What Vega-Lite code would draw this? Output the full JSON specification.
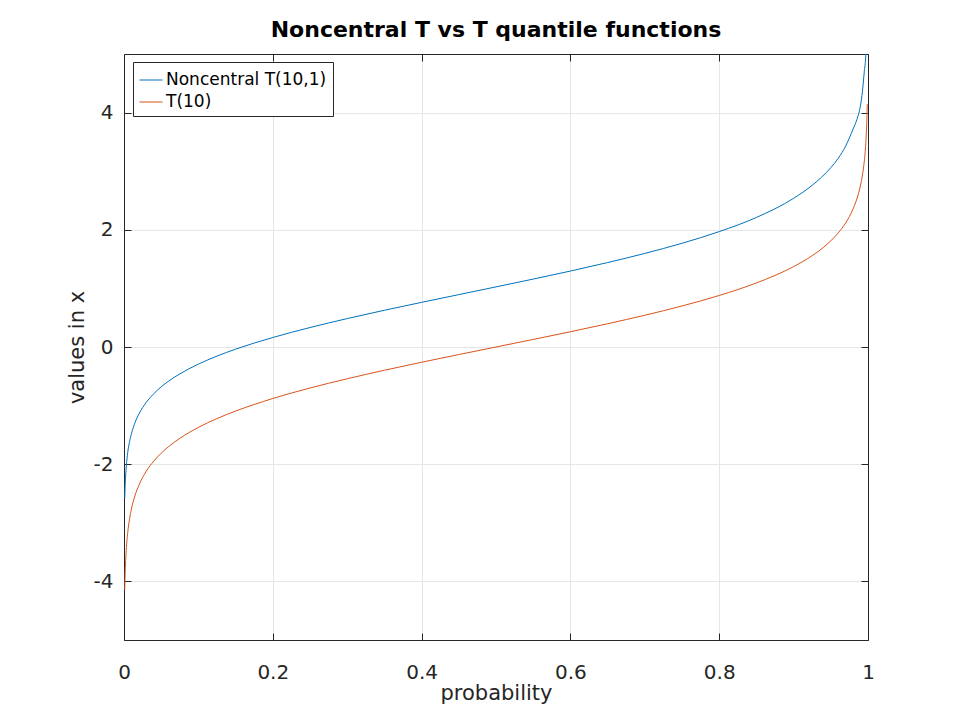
{
  "$schema": "https://vega.github.io/schema/vega-lite/v6.json",
  "autosize": {"type": "none"},
  "width": 744,
  "height": 586,
  "padding": {"left": 124, "top": 54, "right": 92, "bottom": 80},
  "background": "white",
  "title": {
    "text": "Noncentral T vs T quantile functions",
    "font": "DejaVu Sans",
    "fontSize": 22,
    "fontWeight": "bold",
    "color": "#000000",
    "anchor": "middle",
    "baseline": "alphabetic",
    "offset": -5
  },
  "data": {
    "values": [
      {"p": 0.001, "x": -2.58, "series": "Noncentral T(10,1)"},
      {"p": 0.0015, "x": -2.38, "series": "Noncentral T(10,1)"},
      {"p": 0.002, "x": -2.24, "series": "Noncentral T(10,1)"},
      {"p": 0.003, "x": -2.05, "series": "Noncentral T(10,1)"},
      {"p": 0.005, "x": -1.8, "series": "Noncentral T(10,1)"},
      {"p": 0.0075, "x": -1.61, "series": "Noncentral T(10,1)"},
      {"p": 0.01, "x": -1.48, "series": "Noncentral T(10,1)"},
      {"p": 0.015, "x": -1.285, "series": "Noncentral T(10,1)"},
      {"p": 0.02, "x": -1.145, "series": "Noncentral T(10,1)"},
      {"p": 0.03, "x": -0.944, "series": "Noncentral T(10,1)"},
      {"p": 0.04, "x": -0.798, "series": "Noncentral T(10,1)"},
      {"p": 0.05, "x": -0.68, "series": "Noncentral T(10,1)"},
      {"p": 0.06, "x": -0.582, "series": "Noncentral T(10,1)"},
      {"p": 0.075, "x": -0.459, "series": "Noncentral T(10,1)"},
      {"p": 0.1, "x": -0.292, "series": "Noncentral T(10,1)"},
      {"p": 0.125, "x": -0.155, "series": "Noncentral T(10,1)"},
      {"p": 0.15, "x": -0.037, "series": "Noncentral T(10,1)"},
      {"p": 0.2, "x": 0.162, "series": "Noncentral T(10,1)"},
      {"p": 0.25, "x": 0.332, "series": "Noncentral T(10,1)"},
      {"p": 0.3, "x": 0.485, "series": "Noncentral T(10,1)"},
      {"p": 0.35, "x": 0.627, "series": "Noncentral T(10,1)"},
      {"p": 0.4, "x": 0.762, "series": "Noncentral T(10,1)"},
      {"p": 0.45, "x": 0.894, "series": "Noncentral T(10,1)"},
      {"p": 0.5, "x": 1.026, "series": "Noncentral T(10,1)"},
      {"p": 0.55, "x": 1.159, "series": "Noncentral T(10,1)"},
      {"p": 0.6, "x": 1.296, "series": "Noncentral T(10,1)"},
      {"p": 0.65, "x": 1.441, "series": "Noncentral T(10,1)"},
      {"p": 0.7, "x": 1.597, "series": "Noncentral T(10,1)"},
      {"p": 0.75, "x": 1.77, "series": "Noncentral T(10,1)"},
      {"p": 0.8, "x": 1.969, "series": "Noncentral T(10,1)"},
      {"p": 0.85, "x": 2.211, "series": "Noncentral T(10,1)"},
      {"p": 0.9, "x": 2.537, "series": "Noncentral T(10,1)"},
      {"p": 0.925, "x": 2.76, "series": "Noncentral T(10,1)"},
      {"p": 0.95, "x": 3.06, "series": "Noncentral T(10,1)"},
      {"p": 0.96, "x": 3.22, "series": "Noncentral T(10,1)"},
      {"p": 0.97, "x": 3.43, "series": "Noncentral T(10,1)"},
      {"p": 0.98, "x": 3.72, "series": "Noncentral T(10,1)"},
      {"p": 0.985, "x": 3.88, "series": "Noncentral T(10,1)"},
      {"p": 0.99, "x": 4.13, "series": "Noncentral T(10,1)"},
      {"p": 0.9925, "x": 4.36, "series": "Noncentral T(10,1)"},
      {"p": 0.995, "x": 4.7, "series": "Noncentral T(10,1)"},
      {"p": 0.997, "x": 4.98, "series": "Noncentral T(10,1)"},
      {"p": 0.998, "x": 5.35, "series": "Noncentral T(10,1)"},
      {"p": 0.999, "x": 6.0, "series": "Noncentral T(10,1)"},
      {"p": 0.001, "x": -4.144, "series": "T(10)"},
      {"p": 0.0015, "x": -3.895, "series": "T(10)"},
      {"p": 0.002, "x": -3.719, "series": "T(10)"},
      {"p": 0.003, "x": -3.473, "series": "T(10)"},
      {"p": 0.005, "x": -3.169, "series": "T(10)"},
      {"p": 0.0075, "x": -2.932, "series": "T(10)"},
      {"p": 0.01, "x": -2.764, "series": "T(10)"},
      {"p": 0.015, "x": -2.527, "series": "T(10)"},
      {"p": 0.02, "x": -2.359, "series": "T(10)"},
      {"p": 0.03, "x": -2.118, "series": "T(10)"},
      {"p": 0.04, "x": -1.947, "series": "T(10)"},
      {"p": 0.05, "x": -1.812, "series": "T(10)"},
      {"p": 0.06, "x": -1.699, "series": "T(10)"},
      {"p": 0.075, "x": -1.559, "series": "T(10)"},
      {"p": 0.1, "x": -1.372, "series": "T(10)"},
      {"p": 0.125, "x": -1.221, "series": "T(10)"},
      {"p": 0.15, "x": -1.093, "series": "T(10)"},
      {"p": 0.2, "x": -0.879, "series": "T(10)"},
      {"p": 0.25, "x": -0.7, "series": "T(10)"},
      {"p": 0.3, "x": -0.542, "series": "T(10)"},
      {"p": 0.35, "x": -0.397, "series": "T(10)"},
      {"p": 0.4, "x": -0.26, "series": "T(10)"},
      {"p": 0.45, "x": -0.129, "series": "T(10)"},
      {"p": 0.5, "x": 0.0, "series": "T(10)"},
      {"p": 0.55, "x": 0.129, "series": "T(10)"},
      {"p": 0.6, "x": 0.26, "series": "T(10)"},
      {"p": 0.65, "x": 0.397, "series": "T(10)"},
      {"p": 0.7, "x": 0.542, "series": "T(10)"},
      {"p": 0.75, "x": 0.7, "series": "T(10)"},
      {"p": 0.8, "x": 0.879, "series": "T(10)"},
      {"p": 0.85, "x": 1.093, "series": "T(10)"},
      {"p": 0.875, "x": 1.221, "series": "T(10)"},
      {"p": 0.9, "x": 1.372, "series": "T(10)"},
      {"p": 0.925, "x": 1.559, "series": "T(10)"},
      {"p": 0.94, "x": 1.699, "series": "T(10)"},
      {"p": 0.95, "x": 1.812, "series": "T(10)"},
      {"p": 0.96, "x": 1.947, "series": "T(10)"},
      {"p": 0.97, "x": 2.118, "series": "T(10)"},
      {"p": 0.98, "x": 2.359, "series": "T(10)"},
      {"p": 0.985, "x": 2.527, "series": "T(10)"},
      {"p": 0.99, "x": 2.764, "series": "T(10)"},
      {"p": 0.9925, "x": 2.932, "series": "T(10)"},
      {"p": 0.995, "x": 3.169, "series": "T(10)"},
      {"p": 0.997, "x": 3.473, "series": "T(10)"},
      {"p": 0.998, "x": 3.719, "series": "T(10)"},
      {"p": 0.9985, "x": 3.895, "series": "T(10)"},
      {"p": 0.999, "x": 4.144, "series": "T(10)"}
    ]
  },
  "layer": [
    {
      "mark": {"type": "line", "strokeWidth": 1, "clip": true, "interpolate": "monotone"},
      "encoding": {
        "x": {
          "field": "p",
          "type": "quantitative",
          "scale": {"domain": [0, 1], "nice": false, "zero": false},
          "axis": {
            "orient": "bottom",
            "values": [0, 0.2, 0.4, 0.6, 0.8, 1],
            "labelExpr": "toString(datum.value)",
            "title": "probability",
            "grid": true,
            "labelPadding": 29,
            "titlePadding": 0
          }
        },
        "y": {
          "field": "x",
          "type": "quantitative",
          "scale": {"domain": [-5, 5], "nice": false, "zero": false},
          "axis": {
            "orient": "left",
            "values": [-4, -2, 0, 2, 4],
            "labelExpr": "toString(datum.value)",
            "title": "values in x",
            "grid": true,
            "labelPadding": 18,
            "titlePadding": 6
          }
        },
        "color": {
          "field": "series",
          "type": "nominal",
          "sort": ["Noncentral T(10,1)", "T(10)"],
          "scale": {"domain": ["Noncentral T(10,1)", "T(10)"], "range": ["#0072BD", "#D95319"]},
          "legend": {
            "orient": "none",
            "legendX": 9,
            "legendY": 8,
            "title": null,
            "symbolType": "stroke",
            "symbolSize": 529,
            "symbolStrokeWidth": 1,
            "labelFont": "DejaVu Sans",
            "labelFontSize": 17,
            "labelColor": "#000000",
            "labelOffset": 3,
            "labelLimit": 400,
            "rowPadding": 2,
            "padding": 6,
            "strokeColor": "#262626",
            "fillColor": "white"
          }
        }
      }
    },
    {
      "mark": {"type": "line", "strokeOpacity": 0, "clip": true},
      "encoding": {
        "x": {
          "field": "p",
          "type": "quantitative",
          "axis": {
            "orient": "top",
            "values": [0, 0.2, 0.4, 0.6, 0.8, 1],
            "labels": false,
            "title": null,
            "grid": false
          }
        },
        "y": {
          "field": "x",
          "type": "quantitative",
          "axis": {
            "orient": "right",
            "values": [-4, -2, 0, 2, 4],
            "labels": false,
            "title": null,
            "grid": false
          }
        },
        "detail": {"field": "series"}
      }
    }
  ],
  "resolve": {"axis": {"x": "independent", "y": "independent"}},
  "config": {
    "view": {"stroke": null},
    "axis": {
      "domainColor": "#262626",
      "domainWidth": 1,
      "tickColor": "#262626",
      "tickSize": -7,
      "tickWidth": 1,
      "labelColor": "#262626",
      "labelFont": "DejaVu Sans",
      "labelFontSize": 20,
      "titleColor": "#262626",
      "titleFont": "DejaVu Sans",
      "titleFontSize": 21,
      "titleFontWeight": "normal",
      "gridColor": "#e6e6e6",
      "gridWidth": 1,
      "labelFlush": false,
      "labelOverlap": false
    }
  }
}
